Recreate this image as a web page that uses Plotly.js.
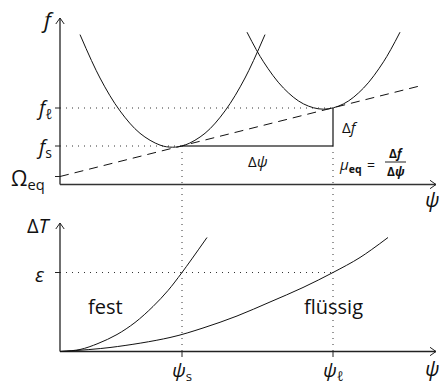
<!DOCTYPE html>
<html>
<head>
<meta charset="utf-8">
<script src="https://cdn.plot.ly/plotly-3.0.1.min.js"></script>
<style>
  html, body { margin: 0; padding: 0; background: #fff; }
  #plot { width: 444px; height: 386px; }
</style>
</head>
<body>
<div id="plot"></div>
<script>
// Order parameter positions and free-energy levels (top panel)
const psiS = 12.2;      // ψ_s
const psiL = 27.3;      // ψ_ℓ
const fS = 3.85;        // f_s
const fL = 7.65;        // f_ℓ
const omegaEq = 0.8;    // Ω_eq (intercept of the common tangent)
const tangentEndX = 36.3;

// Free-energy curve of the solid phase
const solidPsi = [2.0, 4.0, 6.0, 8.0, 10.0, 11.25, 12.5, 14.5, 16.5, 18.5, 20.5];
const solidF   = [14.99, 10.65, 7.36, 5.12, 3.94, 3.73, 3.94, 5.12, 7.36, 10.65, 14.99];

// Free-energy curve of the liquid phase
const liquidPsi = [18.7, 20.35, 22.35, 24.35, 26.35, 28.35, 30.35, 32.35, 34.0];
const liquidF   = [15.23, 12.27, 9.64, 8.06, 7.53, 8.06, 9.64, 12.27, 15.23];

// Temperature deviation (bottom panel)
const eps = 7.9;        // ε
const festPsi = [0, 2, 3.8, 5.7, 7.5, 9.3, 10.8, 12.2, 14.7];
const festT   = [0, 0.2, 0.8, 1.7, 2.9, 4.5, 6.1, 7.9, 11.4];
const fluidPsi = [0, 5, 11, 14.3, 17.7, 21, 24.3, 27.3, 30, 32.8];
const fluidT   = [0, 0.4, 1.4, 2.35, 3.55, 4.95, 6.4, 7.9, 9.4, 11.4];

// Axis extents
const xAxisEnd = 37.6;
const topAxisEnd = 16.65;
const bottomAxisEnd = 12.85;
const panelOffset = 16.7;   // distance from top x-axis down to bottom x-axis, in top-panel units

const mu = (fL - fS) / (psiL - psiS);   // slope of the common tangent

const INK = '#111';
const DOTS = '1px,5px';
const FONT = '"Open Sans", "DejaVu Sans", sans-serif';

function line(x, y, opts) {
  return Object.assign({
    type: 'scatter', mode: 'lines', x: x, y: y,
    xaxis: 'x', yaxis: 'y', hoverinfo: 'skip',
    line: { color: INK, width: 1 }
  }, opts || {});
}

const traces = [
  // axes, top panel
  line([0, 0], [0, topAxisEnd], { line: { color: '#222', width: 1.3 } }),
  line([0, xAxisEnd], [0, 0], { line: { color: '#333', width: 1.5 } }),
  // axes, bottom panel
  line([0, 0], [0, bottomAxisEnd], { yaxis: 'y2', line: { color: '#222', width: 1.3 } }),
  line([0, xAxisEnd], [0, 0], { yaxis: 'y2', line: { color: '#222', width: 1.4 } }),

  // dotted guides
  line([0, psiL], [fL, fL], { line: { color: '#333', width: 1, dash: DOTS } }),
  line([0, psiS], [fS, fS], { line: { color: '#333', width: 1, dash: DOTS } }),
  line([psiS, psiS], [fS, -panelOffset], { line: { color: '#333', width: 1, dash: DOTS } }),
  line([psiL, psiL], [fS, -panelOffset], { line: { color: '#333', width: 1, dash: DOTS } }),
  line([0, psiL], [eps, eps], { yaxis: 'y2', line: { color: '#333', width: 1, dash: DOTS } }),

  // common tangent
  line([0, tangentEndX], [omegaEq, omegaEq + mu * tangentEndX],
       { line: { color: INK, width: 1, dash: '9px,6px' } }),

  // Δψ and Δf legs
  line([psiS, psiL], [fS, fS], { line: { color: '#444', width: 1.5 } }),
  line([psiL, psiL], [fS, fL], { line: { color: INK, width: 1.2 } }),

  // free-energy parabolas
  line(solidPsi, solidF, { line: { color: INK, width: 1, shape: 'spline' } }),
  line(liquidPsi, liquidF, { line: { color: INK, width: 1, shape: 'spline' } }),

  // ΔT curves
  line(festPsi, festT, { yaxis: 'y2', line: { color: INK, width: 1, shape: 'spline' } }),
  line(fluidPsi, fluidT, { yaxis: 'y2', line: { color: INK, width: 1, shape: 'spline' } })
];

// arrow heads and tick marks
const shapes = [];
function chevronUp(yref, yTip) {
  shapes.push({ type: 'path', xref: 'x', yref: yref,
    path: `M -0.42 ${yTip - 0.6} L 0 ${yTip} L 0.42 ${yTip - 0.6}`,
    line: { color: '#222', width: 1 } });
}
function chevronRight(yref) {
  shapes.push({ type: 'path', xref: 'x', yref: yref,
    path: `M ${xAxisEnd - 0.6} 0.42 L ${xAxisEnd} 0 L ${xAxisEnd - 0.6} -0.42`,
    line: { color: '#222', width: 1 } });
}
chevronUp('y', topAxisEnd);
chevronRight('y');
chevronUp('y2', bottomAxisEnd);
chevronRight('y2');

function yTick(yref, v) {
  shapes.push({ type: 'line', xref: 'x', yref: yref, x0: -0.5, x1: 0, y0: v, y1: v,
    line: { color: '#222', width: 1 } });
}
function xTick(v) {
  shapes.push({ type: 'line', xref: 'x', yref: 'y2', x0: v, x1: v, y0: 0, y1: -0.55,
    line: { color: '#222', width: 1 } });
}
yTick('y', fL); yTick('y', fS); yTick('y', omegaEq);
yTick('y2', eps);
xTick(psiS); xTick(psiL);

// fraction bar of μ_eq = Δf/Δψ
shapes.push({ type: 'line', xref: 'x', yref: 'y', x0: 32.5, x1: 34.6, y0: 2.25, y1: 2.25,
  line: { color: '#222', width: 1 } });

function label(text, x, y, yref, size, opts) {
  return Object.assign({
    text: text, x: x, y: y, xref: 'x', yref: yref, showarrow: false,
    font: { family: FONT, size: size, color: '#111' },
    xanchor: 'center', yanchor: 'middle'
  }, opts || {});
}

const annotations = [
  label('<i>f</i>', -1.3, 16.6, 'y', 22),
  label('<i>f</i><sub>ℓ</sub>', -0.6, fL - 0.05, 'y', 20, { xanchor: 'right' }),
  label('<i>f</i><sub>s</sub>', -0.6, fS - 0.15, 'y', 20, { xanchor: 'right' }),
  label('Ω<sub>eq</sub>', -1.3, omegaEq - 0.25, 'y', 21, { xanchor: 'right' }),
  label('Δ<i>f</i>', 29.0, 5.75, 'y', 15),
  label('Δ<i>ψ</i>', 19.8, 2.35, 'y', 15),
  label('<i>μ</i><sub><b>eq</b></sub>', 30.4, 1.95, 'y', 15, { xanchor: 'right' }),
  label('=', 31.1, 2.05, 'y', 14),
  label('<b>Δ<i>f</i></b>', 33.55, 3.15, 'y', 12),
  label('<b>Δ<i>ψ</i></b>', 33.55, 1.35, 'y', 12),
  label('<i>ψ</i>', 37.2, -1.5, 'y', 20),

  label('Δ<i>T</i>', -2.1, 12.6, 'y2', 20),
  label('<i>ε</i>', -2.0, eps - 0.2, 'y2', 20),
  label('fest', 4.5, 4.5, 'y2', 20),
  label('flüssig', 27.3, 4.5, 'y2', 20),
  label('<i>ψ</i><sub>s</sub>', psiS, -1.95, 'y2', 19),
  label('<i>ψ</i><sub>ℓ</sub>', psiL, -1.95, 'y2', 19),
  label('<i>ψ</i>', 37.2, -1.65, 'y2', 20)
];

const layout = {
  width: 444, height: 386,
  margin: { l: 0, r: 0, t: 0, b: 0 },
  paper_bgcolor: '#fff', plot_bgcolor: '#fff',
  showlegend: false,
  xaxis: { range: [-6, 38.4], visible: false, fixedrange: true },
  yaxis: { range: [-20.15, 18.45], visible: false, fixedrange: true, domain: [0, 1] },
  yaxis2: { range: [-3.45, 35.15], visible: false, fixedrange: true, overlaying: 'y' },
  shapes: shapes,
  annotations: annotations
};

Plotly.newPlot('plot', traces, layout, { displayModeBar: false, staticPlot: true });
</script>
</body>
</html>
